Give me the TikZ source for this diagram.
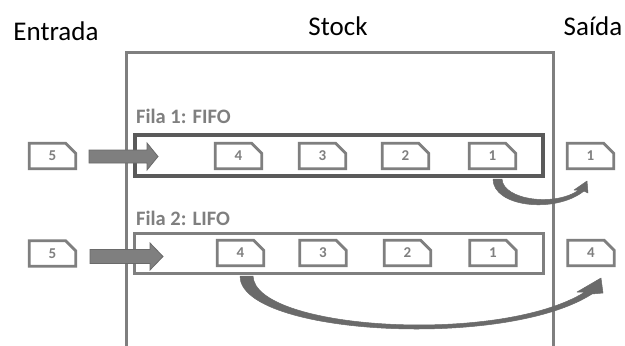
\documentclass[tikz,border=0pt]{standalone}
\usepackage{fontspec}
\setmainfont{Carlito}
\usetikzlibrary{calc}
\definecolor{cg}{HTML}{7F7F7F}
\definecolor{dg}{HTML}{5A5A5A}
\definecolor{ag}{HTML}{6A6A6A}
\newcommand\mycard[3]{%
  \node[card] (#1) at (#2) {\raisebox{-2pt}{#3}\hspace{5pt}};
  \draw[cardline] (#1.south west) -- (#1.north west) -- ([xshift=-10pt]#1.north east)
    -- ([yshift=-10pt]#1.north east) -- (#1.south east) -- cycle;}
\begin{document}
\begin{tikzpicture}[x=1pt,y=-1pt,
  title/.style={font=\fontsize{27}{30}\selectfont, text=black, inner sep=0, anchor=base},
  lbl/.style={font=\bfseries\fontsize{20.5}{22}\selectfont, text=cg, inner sep=0, anchor=base west},
  card/.style={minimum width=46pt, minimum height=25pt, inner sep=0, font=\bfseries\fontsize{15}{15}\selectfont, text=cg},
  cardline/.style={draw=cg, line width=2.8pt, line join=miter},
  queue/.style={minimum width=408pt, inner sep=0},
  blockarr/.style={fill=cg, draw=ag, line width=0.8pt, line join=miter},
  curvarr/.style={fill=ag, draw=ag, line width=0.5pt, line join=round}]
\useasboundingbox (0,0) rectangle (625,346);
\fill[white] (0,0) rectangle (625,346);
% titles
\node[title] (tin) at (56,40.5) {Entrada};
\node[title] (tstock) at (338,35) {Stock};
\node[title] (tout) at (593,35) {Saída};
% stock box
\draw[cg, line width=3pt] (126.5,346) -- (126.5,52.5) -- (553.5,52.5) -- (553.5,346);
% queues
\node[lbl] (l1) at (136,123) {Fila 1: FIFO};
\node[lbl] (l2) at (136,225) {Fila 2: LIFO};
\node[queue, draw=dg, line width=3.5pt, minimum height=41pt] (q1) at (339,155.5) {};
\node[queue, draw=cg, line width=3pt, minimum height=40pt, minimum width=409pt] (q2) at (339,253.5) {};
% cards row 1
\mycard{in1}{52.5,156}{5}
\mycard{c14}{238.5,156}{4}
\mycard{c13}{322.5,156}{3}
\mycard{c12}{405.5,156}{2}
\mycard{c11}{492.5,156}{1}
\mycard{out1}{590.5,156}{1}
% cards row 2
\mycard{in2}{52.5,253.5}{5}
\mycard{c24}{240.5,253}{4}
\mycard{c23}{323,253}{3}
\mycard{c22}{407.5,253}{2}
\mycard{c21}{493,253}{1}
\mycard{out2}{591,253}{4}
% block arrows
\fill[blockarr] (89,150) -- (147,150) -- (147,143) -- (158,156.5) -- (147,170) -- (147,163) -- (89,163) -- cycle;
\fill[blockarr] (90,249.5) -- (150,249.5) -- (150,243) -- (163,256.5) -- (150,270) -- (150,263.5) -- (90,263.5) -- cycle;
% curved arrows
\coordinate (s1a) at (493,179);
\coordinate (s1b) at (502,179);
\coordinate (h1) at (587,181);
\filldraw[curvarr] (s1b) .. controls (503,200) and (555,207) .. (579,190) -- (574,190) -- (h1)
  -- (588,193) -- (584,191) .. controls (555,214) and (493,207) .. (s1a) -- cycle;
\coordinate (s2a) at (240,276);
\coordinate (s2b) at (253,276);
\coordinate (h2) at (601,278);
\filldraw[curvarr] (s2b) .. controls (255,330) and (500,345) .. (585,292) -- (577,292) -- (h2)
  -- (603,293) -- (592,294) .. controls (505,350) and (240,335) .. (s2a) -- cycle;
\end{tikzpicture}
\end{document}
